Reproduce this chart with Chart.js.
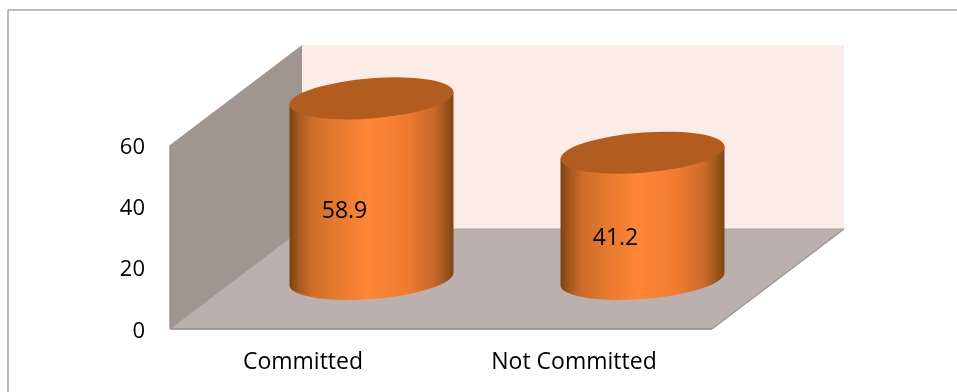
<!DOCTYPE html>
<html>
<head>
<meta charset="utf-8">
<style>
  html, body { margin: 0; padding: 0; background: #fff; }
  canvas { display: block; }
</style>
<script src="https://cdn.jsdelivr.net/npm/chart.js@4/dist/chart.umd.min.js"></script>
</head>
<body>
<canvas id="chart" width="957" height="392"></canvas>
<script>
const categories = ['Committed', 'Not Committed'];
const values = [58.9, 41.2];
const tickValues = [0, 20, 40, 60];

// how far the back wall sits behind the front plane
const depthX = 132;
const depthY = -100;
const fontName = '"Open Sans", sans-serif';

function fillPoly(ctx, pts, color) {
  ctx.beginPath();
  pts.forEach((p, i) => i ? ctx.lineTo(p[0], p[1]) : ctx.moveTo(p[0], p[1]));
  ctx.closePath();
  ctx.fillStyle = color;
  ctx.fill();
}

function line(ctx, x1, y1, x2, y2, color, width) {
  ctx.beginPath();
  ctx.moveTo(x1, y1);
  ctx.lineTo(x2, y2);
  ctx.strokeStyle = color;
  ctx.lineWidth = width;
  ctx.stroke();
}

const walls = {
  id: 'walls',
  beforeDraw(chart) {
    const { ctx, chartArea: a } = chart;
    const backL = a.left + depthX, backR = a.right + depthX;
    const backT = a.top + depthY, backB = a.bottom + depthY;
    ctx.save();
    // outer frame, only top and left show in the picture
    line(ctx, 8, 10, 957, 10, '#a6a6a6', 1.6);
    line(ctx, 8, 10, 8, 392, '#a6a6a6', 1.6);

    fillPoly(ctx, [[backL, backT], [backR, backT], [backR, backB], [backL, backB]], '#fcece8');
    fillPoly(ctx, [[a.left, a.top], [backL, backT], [backL, backB], [a.left, a.bottom]], '#a1968f');
    fillPoly(ctx, [[a.left, a.bottom], [a.right, a.bottom], [backR, backB], [backL, backB]], '#bbb0ad');

    line(ctx, a.left, a.top, a.left, a.bottom, '#8c8683', 1.2);
    line(ctx, a.left, a.bottom, backL, backB, '#a09a98', 1);
    line(ctx, a.right, a.bottom, backR, backB, '#9a9594', 1.2);
    line(ctx, backL, backB, backR, backB, '#a89f9c', 1);
    line(ctx, a.left, a.bottom, a.right, a.bottom, '#8a8a8a', 1.6);
    ctx.restore();
  }
};

const cylinders = {
  id: 'cylinders',
  beforeDatasetDraw(chart, args) {
    const { ctx } = chart;
    args.meta.data.forEach((bar, i) => {
      const cx = bar.x + depthX / 2;
      const topY = bar.y + depthY / 2;
      const baseY = bar.base + depthY / 2;
      const a = bar.width / 2;
      const b = a * 0.245;
      const slope = -0.075;

      const grad = ctx.createLinearGradient(cx - a, 0, cx + a, 0);
      grad.addColorStop(0, '#7a4212');
      grad.addColorStop(0.06, '#a85a20');
      grad.addColorStop(0.14, '#cf6d2b');
      grad.addColorStop(0.25, '#e0762e');
      grad.addColorStop(0.47, '#ff8635');
      grad.addColorStop(0.72, '#ef7b30');
      grad.addColorStop(0.88, '#c9692a');
      grad.addColorStop(0.96, '#99531c');
      grad.addColorStop(1, '#7f4514');

      ctx.save();
      ctx.beginPath();
      ctx.moveTo(cx - a, topY - slope * a);
      ctx.lineTo(cx - a, baseY - slope * a);
      ctx.save();
      ctx.transform(1, slope, 0, 1, cx, baseY);
      ctx.ellipse(0, 0, a, b, 0, Math.PI, 0, true);
      ctx.restore();
      ctx.lineTo(cx + a, topY + slope * a);
      ctx.closePath();
      ctx.fillStyle = grad;
      ctx.fill();

      ctx.beginPath();
      ctx.save();
      ctx.transform(1, slope, 0, 1, cx, topY);
      ctx.ellipse(0, 0, a, b, 0, 0, Math.PI * 2);
      ctx.restore();
      ctx.fillStyle = '#b35c20';
      ctx.fill();

      // value label sits a little toward the viewer from the bar centre
      ctx.fillStyle = '#000';
      ctx.font = '23px ' + fontName;
      ctx.textAlign = 'center';
      ctx.textBaseline = 'middle';
      ctx.fillText(String(values[i]), cx - 27, (topY + baseY) / 2 + 22.5);
      ctx.restore();
    });
    return false;
  }
};

new Chart(document.getElementById('chart'), {
  type: 'bar',
  data: {
    labels: categories,
    datasets: [{ label: 'Share', data: values, backgroundColor: '#ff8635', categoryPercentage: 1, barPercentage: 0.605 }]
  },
  plugins: [walls, cylinders],
  options: {
    responsive: false,
    animation: false,
    layout: { padding: { top: 145, right: 245 } },
    plugins: { legend: { display: false }, tooltip: { enabled: false } },
    scales: {
      x: {
        grid: { display: false, drawTicks: false },
        border: { display: false },
        afterFit(scale) { scale.height = 63; },
        ticks: { color: '#000', font: { family: fontName, size: 23 }, padding: 20, labelOffset: -2.5, maxRotation: 0 }
      },
      y: {
        min: tickValues[0],
        max: tickValues[tickValues.length - 1],
        grid: { display: false, drawTicks: false },
        border: { display: false },
        afterFit(scale) { scale.width = 170; },
        afterBuildTicks(scale) { scale.ticks = tickValues.map(v => ({ value: v })); },
        ticks: { color: '#000', font: { family: fontName, size: 22 }, padding: 25, labelOffset: 2.5 }
      }
    }
  }
});
</script>
</body>
</html>
